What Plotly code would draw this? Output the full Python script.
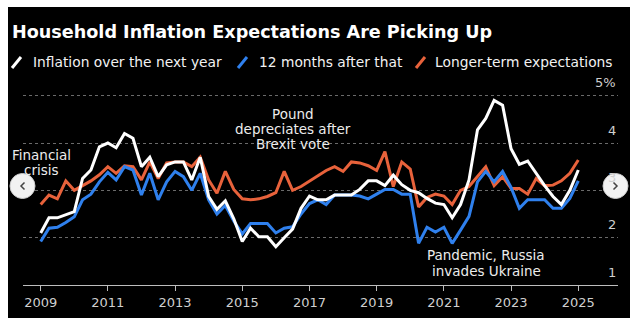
import pandas as pd
import plotly.graph_objects as go

# Quarterly survey readings, 2009 Q1 - 2025 Q1 (percent)
quarters = pd.date_range("2009-01-01", periods=65, freq="QS")

next_year = [
    2.10, 2.42, 2.42, 2.48, 2.55, 3.25, 3.43, 3.92, 4.00, 3.90,
    4.20, 4.10, 3.50, 3.70, 3.29, 3.54, 3.60, 3.60, 3.22, 3.70,
    2.87, 2.60, 2.78, 2.40, 1.92, 2.20, 2.02, 2.02, 1.81, 2.00,
    2.18, 2.62, 2.88, 2.80, 2.80, 2.90, 2.90, 2.90, 3.02, 3.20,
    3.20, 3.10, 3.32, 3.12, 3.00, 2.95, 2.83, 2.73, 2.70, 2.42,
    2.70, 3.22, 4.28, 4.52, 4.90, 4.80, 3.88, 3.55, 3.62, 3.35,
    3.10, 2.87, 2.70, 3.00, 3.43,
]
months_after = [
    1.92, 2.20, 2.22, 2.32, 2.44, 2.80, 2.92, 3.18, 3.38, 3.22,
    3.50, 3.43, 2.90, 3.36, 2.80, 3.18, 3.40, 3.29, 3.00, 3.36,
    2.80, 2.50, 2.68, 2.35, 2.08, 2.30, 2.30, 2.30, 2.10, 2.20,
    2.23, 2.50, 2.72, 2.80, 2.70, 2.90, 2.90, 2.90, 2.88, 2.82,
    2.92, 3.02, 3.02, 2.92, 2.92, 1.88, 2.22, 2.12, 2.22, 1.88,
    2.16, 2.45, 3.18, 3.40, 3.18, 3.40, 3.06, 2.62, 2.80, 2.80,
    2.80, 2.62, 2.62, 2.83, 3.20,
]
longer_term = [
    2.70, 2.90, 2.82, 3.20, 3.00, 3.10, 3.20, 3.33, 3.50, 3.36,
    3.52, 3.50, 3.22, 3.60, 3.25, 3.58, 3.60, 3.60, 3.50, 3.70,
    3.22, 2.94, 3.40, 3.02, 2.82, 2.80, 2.82, 2.87, 2.95, 3.40,
    3.00, 3.08, 3.20, 3.30, 3.42, 3.50, 3.40, 3.60, 3.58, 3.52,
    3.42, 3.82, 3.08, 3.60, 3.45, 2.65, 2.85, 2.92, 2.88, 2.70,
    3.00, 3.08, 3.29, 3.50, 3.10, 3.29, 3.04, 3.04, 2.92, 3.25,
    3.10, 3.11, 3.20, 3.36, 3.64,
]

series_names = ["Inflation over the next year", "12 months after that", "Longer-term expectations"]
series_colors = ["#ffffff", "#2f80ed", "#e8623b"]

tick_years = [2009, 2011, 2013, 2015, 2017, 2019, 2021, 2023, 2025]
y_ticks = [1, 2, 3, 4, 5]
y_tick_text = ["1", "2", "3", "4", "5%"]

title_text = "Household Inflation Expectations Are Picking Up"
notes = [
    ("Financial", 41, 155), ("crisis", 41.5, 170),
    ("Pound", 293, 114), ("depreciates after", 292.5, 129), ("Brexit vote", 293, 144),
    ("Pandemic, Russia", 486, 255), ("invades Ukraine", 486, 271),
]

W, H = 635, 327
L, R, T, B = 23, 17, 88, 42
PW, PH = W - L - R, H - T - B


def px(x):
    return (x - L) / PW


def py(y):
    return (H - B - y) / PH


FONT = "DejaVu Sans"

fig = go.Figure()
series = [next_year, months_after, longer_term]
for i in [2, 1, 0]:
    fig.add_trace(go.Scatter(
        x=quarters, y=series[i], mode="lines", name=series_names[i],
        line=dict(color=series_colors[i], width=3),
        hoverinfo="skip", showlegend=False,
    ))

day_px = 365.25 / 33.6
x_start = pd.Timestamp("2009-01-01") - pd.Timedelta(days=17.7 * day_px)
x_end = pd.Timestamp("2009-01-01") + pd.Timedelta(days=577.3 * day_px)

shapes = [
    dict(type="rect", xref="paper", yref="paper", x0=px(8), x1=px(630), y0=py(318), y1=py(7),
         fillcolor="#000000", line=dict(width=0), layer="below"),
]
annotations = []

# legend: slash swatches with labels
legend_items = [(12, 31), (238, 257), (416, 433)]
for (sx, tx), name, col in zip(legend_items, series_names, series_colors):
    shapes.append(dict(type="line", xref="paper", yref="paper",
                       x0=px(sx), y0=py(68), x1=px(sx + 9), y1=py(57),
                       line=dict(color=col, width=3)))
    annotations.append(dict(text=name, xref="paper", yref="paper", x=px(tx), y=py(62),
                            xanchor="left", yanchor="middle", showarrow=False,
                            font=dict(family=FONT, size=13.8, color="#f2f2f2")))

# y tick labels sitting above the gridlines at the right edge
for v, t in zip(y_ticks, y_tick_text):
    annotations.append(dict(text=t, xref="paper", yref="y", x=1, y=v, yshift=13,
                            xanchor="right", yanchor="middle", showarrow=False,
                            font=dict(family=FONT, size=13, color="#cfcfcf")))

for text, x, y in notes:
    annotations.append(dict(text=text, xref="paper", yref="paper", x=px(x), y=py(y),
                            xanchor="center", yanchor="middle", showarrow=False,
                            font=dict(family=FONT, size=13.5, color="#ececec")))

# carousel buttons
for cx, chev in [(22.5, [(24.5, 182.5), (21, 186), (24.5, 189.5)]),
                 (615.5, [(613.5, 182.5), (617, 186), (613.5, 189.5)])]:
    shapes.append(dict(type="circle", xref="paper", yref="paper",
                       x0=px(cx - 12.5), x1=px(cx + 12.5), y0=py(198.5), y1=py(173.5),
                       fillcolor="#f2f2f2", line=dict(color="#cccccc", width=1)))
    path = "M {} {} L {} {} L {} {}".format(*[c for p in chev for c in (px(p[0]), py(p[1]))])
    shapes.append(dict(type="path", xref="paper", yref="paper", path=path,
                       line=dict(color="#444444", width=1.5)))

fig.update_layout(
    width=W, height=H,
    margin=dict(l=L, r=R, t=T, b=B, pad=0),
    paper_bgcolor="#ffffff", plot_bgcolor="rgba(0,0,0,0)",
    font=dict(family=FONT, color="#cfcfcf"),
    title=dict(text="<b>" + title_text + "</b>", xref="container", yref="container",
               x=12 / W, y=1 - 32 / H, xanchor="left", yanchor="middle",
               font=dict(family=FONT, size=17.6, color="#ffffff")),
    showlegend=False,
    shapes=shapes, annotations=annotations,
    xaxis=dict(range=[x_start, x_end], tickvals=[pd.Timestamp(f"{y}-01-01") for y in tick_years],
               ticktext=[str(y) for y in tick_years], showgrid=False, zeroline=False,
               showline=True, linecolor="#bdbdbd", linewidth=1,
               ticks="outside", ticklen=5, tickcolor="#bdbdbd",
               tickfont=dict(family=FONT, size=13, color="#cfcfcf")),
    yaxis=dict(range=[1, 1 + PH / 47.33], tickvals=y_ticks, showticklabels=False,
               showgrid=True, gridcolor="#6a6a6a", griddash="dot", gridwidth=1,
               zeroline=False, showline=False),
)

fig.write_html("out.html")
